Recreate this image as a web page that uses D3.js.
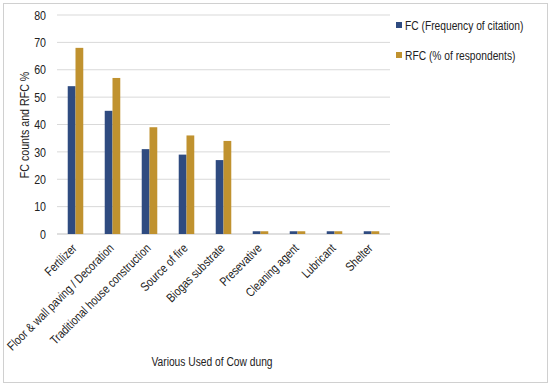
<!DOCTYPE html>
<html>
<head>
<meta charset="utf-8">
<script src="https://cdn.jsdelivr.net/npm/d3@7"></script>
<style>
  body { margin: 0; background: #fff; }
  text { font-family: "Liberation Sans", Arial, sans-serif; fill: #222; }
</style>
</head>
<body>
<script>
const uses = ["Fertilizer", "Floor & wall paving / Decoration", "Traditional house construction",
  "Source of fire", "Biogas substrate", "Presevative", "Cleaning agent", "Lubricant", "Shelter"];
const fcValues = [54, 45, 31, 29, 27, 1, 1, 1, 1];
const rfcValues = [68, 57, 39, 36, 34, 1, 1, 1, 1];
const seriesNames = ["FC (Frequency of citation)", "RFC (% of respondents)"];
const yTicks = [0, 10, 20, 30, 40, 50, 60, 70, 80];

const colors = ["#2f4b80", "#c0922f"];
// narrow look, like Arial Narrow in the original
const squeeze = 'scale(0.82,1)';

const svg = d3.select('body').append('svg')
    .attr('width', 550)
    .attr('height', 387)

svg.append('rect')
    .attr('x', 3.5).attr('y', 3.5)
    .attr('width', 544).attr('height', 379)
    .attr('fill', 'none')
    .attr('stroke', '#d0d0d0')

const x = d3.scaleBand().domain(uses).range([57, 390]).paddingInner(0.58).paddingOuter(0.29)
const sub = d3.scaleBand().domain([0, 1]).range([0, x.bandwidth()])
const y = d3.scaleLinear().domain([0, 80]).range([234, 15])

// gridlines
svg.append('g').selectAll('line')
    .data(yTicks)
    .enter()
    .append('line')
    .attr('x1', 57).attr('x2', 390)
    .attr('y1', d => y(d)).attr('y2', d => y(d))
    .attr('stroke', d => d === 0 ? '#bfbfbf' : '#d9d9d9')

const yAxis = svg.append('g')
    .attr('transform', 'translate(46,0)')
    .call(d3.axisLeft(y).tickValues(yTicks).tickSize(0).tickPadding(0))
yAxis.select('.domain').remove()
yAxis.selectAll('text')
    .style('font-size', '13px')
    .attr('transform', squeeze)

const rows = uses.map((u, i) => ({ use: u, vals: [fcValues[i], rfcValues[i]] }))

const groups = svg.append('g').selectAll('g')
    .data(rows)
    .enter()
    .append('g')
    .attr('transform', d => `translate(${x(d.use)},0)`)

groups.selectAll('rect')
    .data(d => d.vals)
    .enter()
    .append('rect')
    .attr('x', (_, i) => sub(i))
    .attr('y', d => y(d))
    .attr('width', sub.bandwidth())
    .attr('height', d => y(0) - y(d))
    .attr('fill', (_, i) => colors[i])

const xAxis = svg.append('g')
    .attr('transform', `translate(0,${y(0)})`)
    .call(d3.axisBottom(x).tickSize(0).tickPadding(0))
xAxis.select('.domain').remove()
xAxis.selectAll('text')
    .style('font-size', '12.5px')
    .attr('text-anchor', 'end')
    .attr('dy', 0)
    .attr('transform', `translate(2,15) rotate(-45) ${squeeze}`)

svg.append('text')
    .attr('transform', `translate(29,125) rotate(-90) ${squeeze}`)
    .attr('text-anchor', 'middle')
    .style('font-size', '13px')
    .text('FC counts  and RFC %')

svg.append('text')
    .attr('transform', `translate(212,366) ${squeeze}`)
    .attr('text-anchor', 'middle')
    .style('font-size', '12.5px')
    .text('Various Used of Cow dung')

const legend = svg.append('g').selectAll('g')
    .data(seriesNames)
    .enter()
    .append('g')
    .attr('transform', (_, i) => `translate(396,${26 + i * 30})`)
legend.append('rect')
    .attr('x', 0).attr('y', -4)
    .attr('width', 6).attr('height', 6)
    .attr('fill', (_, i) => colors[i])
legend.append('text')
    .attr('transform', `translate(9,0) ${squeeze}`)
    .attr('dy', '0.35em')
    .style('font-size', '12.5px')
    .text(d => d)
</script>
</body>
</html>
